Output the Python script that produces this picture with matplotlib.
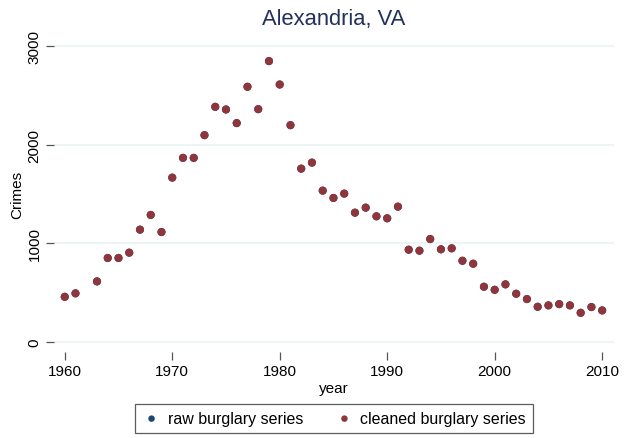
import matplotlib
matplotlib.use("Agg")
import matplotlib.pyplot as plt

# burglary counts (1962 missing)
years = [1960, 1961, 1963, 1964, 1965, 1966, 1967, 1968, 1969, 1970,
         1971, 1972, 1973, 1974, 1975, 1976, 1977, 1978, 1979, 1980,
         1981, 1982, 1983, 1984, 1985, 1986, 1987, 1988, 1989, 1990,
         1991, 1992, 1993, 1994, 1995, 1996, 1997, 1998, 1999, 2000,
         2001, 2002, 2003, 2004, 2005, 2006, 2007, 2008, 2009, 2010]
cleaned = [459, 494, 615, 852, 852, 906, 1139, 1288, 1115, 1666,
           1866, 1866, 2096, 2383, 2356, 2218, 2586, 2359, 2846, 2609,
           2197, 1757, 1818, 1534, 1460, 1504, 1311, 1362, 1274, 1254,
           1372, 936, 926, 1044, 940, 950, 824, 794, 561, 530,
           585, 490, 436, 358, 372, 385, 372, 297, 355, 321]
# raw series coincides with the cleaned one, so it is hidden underneath
raw = list(cleaned)

x_ticks = [1960, 1970, 1980, 1990, 2000, 2010]
y_ticks = [0, 1000, 2000, 3000]

NAVY = "#1a476f"
MAROON = "#90353b"
TITLE = "#22305c"

plt.rcParams["font.family"] = ["Liberation Sans", "DejaVu Sans"]

fig = plt.figure(figsize=(6.25, 4.39), dpi=100)
ax = fig.add_axes([0.0864, 0.1959, 0.896, 0.7198])

ax.scatter(years, raw, s=34, color=NAVY, edgecolors="none", zorder=3,
           label="raw burglary series")
ax.scatter(years, cleaned, s=34, color=MAROON, edgecolors="none", zorder=4,
           label="cleaned burglary series")

ax.set_xlim(1959.0, 2011.1)
ax.set_ylim(-100, 3100)
ax.set_xticks(x_ticks)
ax.set_yticks(y_ticks)
ax.set_yticklabels([str(v) for v in y_ticks], rotation=90, va="center")
ax.tick_params(axis="both", direction="out", length=6, width=0.9,
               color="#555555", labelsize=11, pad=3)
for s in ax.spines.values():
    s.set_visible(False)
ax.grid(axis="y", color="#eaf2f3", linewidth=1.2)
ax.set_axisbelow(True)

ax.set_xlabel("year", fontsize=11, labelpad=2)
ax.set_ylabel("Crimes", fontsize=11, labelpad=2)
ax.set_title("Alexandria, VA", fontsize=15.8, color=TITLE, pad=9)

leg = fig.legend(loc="lower center", bbox_to_anchor=(334 / 625, 5 / 439), ncol=2,
                 fontsize=11.5, frameon=True, fancybox=False, edgecolor="#333333",
                 handletextpad=0.4, handlelength=1.2, columnspacing=2.0,
                 markerscale=0.8, borderpad=0.45, borderaxespad=0)
leg.get_frame().set_linewidth(0.9)

fig.savefig("out.png", dpi=100)
